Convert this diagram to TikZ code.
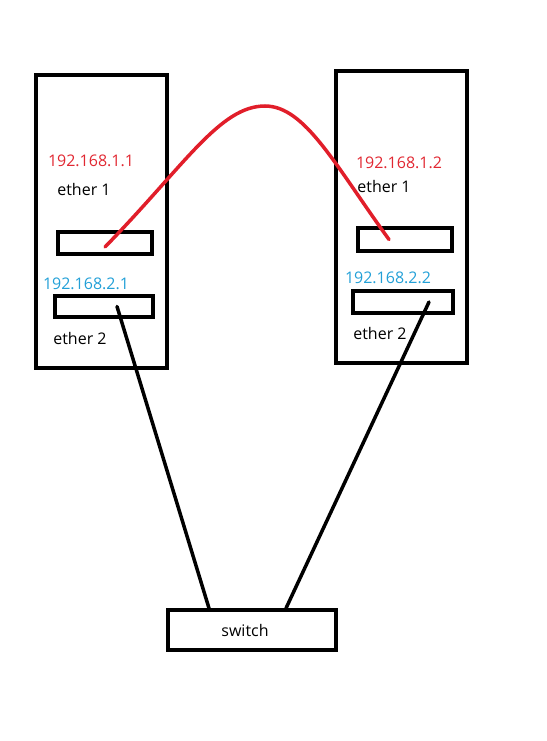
\documentclass[tikz,border=0pt]{standalone}
\usepackage{fontspec}
\setmainfont{Open Sans}
\begin{document}
\begin{tikzpicture}[x=1pt, y=-1pt, font=\fontsize{16}{19}\selectfont]

\definecolor{LinkRed}{RGB}{225,30,42}
\definecolor{AddrRed}{RGB}{225,40,50}
\definecolor{AddrBlue}{RGB}{35,160,215}

\tikzset{
    box/.style={draw=black, line width=3.5pt, inner sep=0pt},
    wire/.style={line width=3.5pt, line cap=round},
}

\useasboundingbox (0,0) rectangle (546,741);

% ── Servidor esquerdo ───────────────────────────────────────
\node[box, minimum width=131pt, minimum height=293pt] (hostA) at (101.5,221.5) {};
\node[box, minimum width=94pt,  minimum height=22pt]  (hostAeth1) at (105,243) {};
\node[box, minimum width=98pt,  minimum height=21pt]  (hostAeth2) at (104,306.5) {};

% ── Servidor direito ────────────────────────────────────────
\node[box, minimum width=131pt, minimum height=292pt] (hostB) at (401.5,217) {};
\node[box, minimum width=94pt,  minimum height=23pt]  (hostBeth1) at (405,239.5) {};
\node[box, minimum width=100pt, minimum height=22pt]  (hostBeth2) at (403,302) {};

% ── Switch ──────────────────────────────────────────────────
\node[box, minimum width=168pt, minimum height=40pt] (switch) at (252,630) {};
\node at ([xshift=-7pt]switch.center) {switch};

% ── Rótulos ─────────────────────────────────────────────────
\node[AddrRed]  at (91,161)  {192.168.1.1};
\node           at (84,189)  {ether 1};
\node[AddrBlue] at (86,284)  {192.168.2.1};
\node           at (80,338)  {ether 2};

\node[AddrRed]  at (399,163) {192.168.1.2};
\node           at (384,186) {ether 1};
\node[AddrBlue] at (388,278) {192.168.2.2};
\node           at (380,333) {ether 2};

% ── Ligação ether 1 (vermelha) ──────────────────────────────
\coordinate (endA1) at ([yshift=-4pt]hostAeth1.center);
\coordinate (endB1) at ([xshift=-16pt]hostBeth1.center);
\draw[wire, LinkRed]
    (endA1) .. controls (185,165) and (220,106) .. (265,106)
            .. controls (305,106) and (335,165) .. (endB1);

% ── Ligações ether 2 ao switch ──────────────────────────────
\coordinate (endA2) at ([xshift=13pt]hostAeth2.center);
\coordinate (endB2) at ([xshift=26pt]hostBeth2.center);
\draw[wire] (endA2) -- ([xshift=-43pt]switch.north);
\draw[wire] (endB2) -- ([xshift=34pt]switch.north);

\end{tikzpicture}
\end{document}
